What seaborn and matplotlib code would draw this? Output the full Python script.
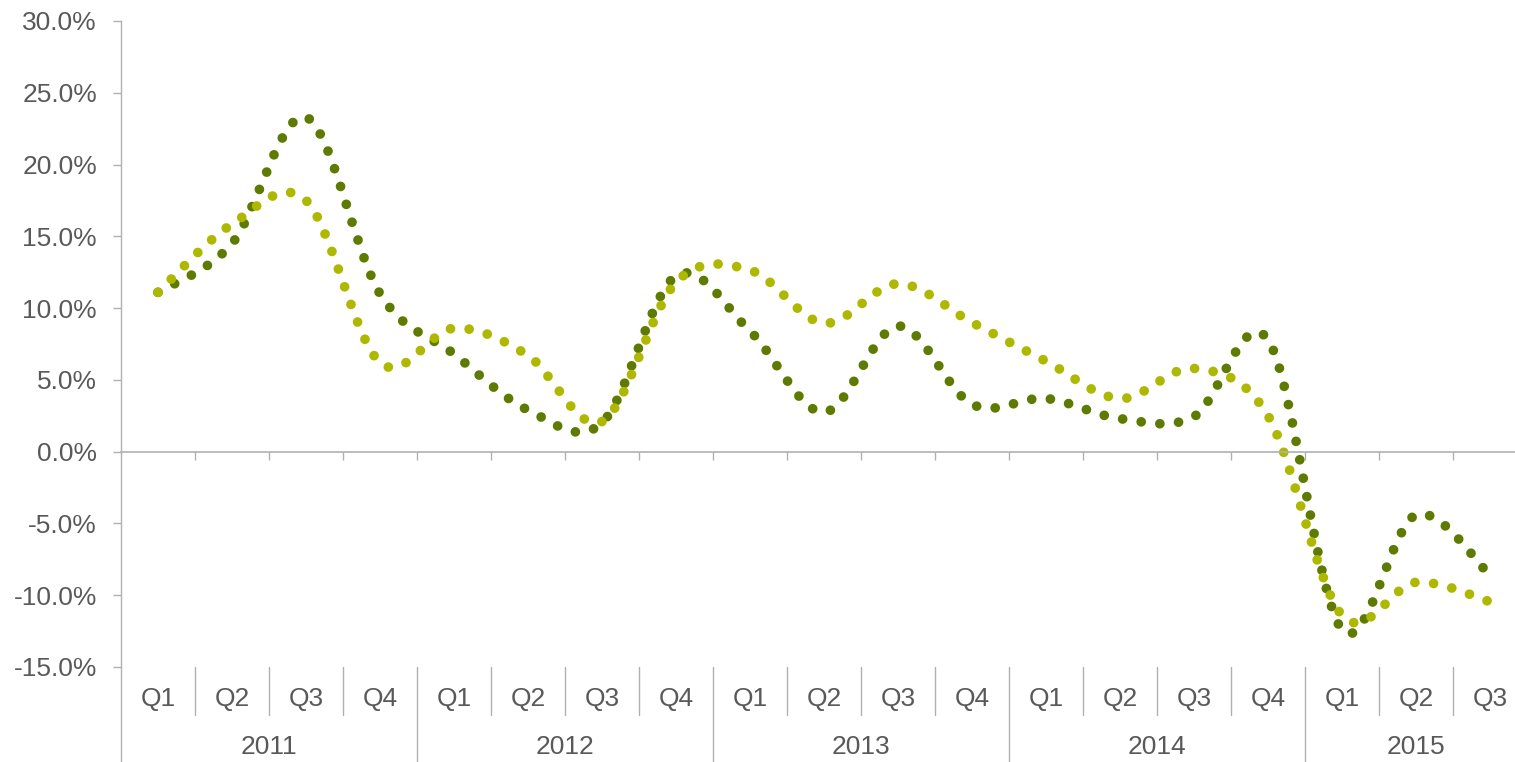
import matplotlib
matplotlib.use("Agg")
import matplotlib.pyplot as plt
from matplotlib.path import Path
from matplotlib.patches import PathPatch
import seaborn as sns

# quarters from 2011 Q1 to 2015 Q3
quarters = ["Q1", "Q2", "Q3", "Q4"] * 4 + ["Q1", "Q2", "Q3"]
years = ["2011", "2012", "2013", "2014", "2015"]
quarters_per_year = [4, 4, 4, 4, 3]

# growth rates in %
serie_oscura = [11.1, 14.5, 23.3, 11.0, 6.8, 2.9, 2.0, 12.25, 8.4, 2.75,
                8.75, 3.3, 3.7, 2.3, 2.45, 7.8, -12.4, -4.4, -8.6]
serie_clara = [11.1, 15.85, 17.5, 6.2, 8.6, 6.7, 2.1, 11.8, 12.65, 8.95,
               11.7, 9.0, 6.3, 3.7, 5.8, 2.5, -11.4, -9.1, -10.45]

color_oscuro = "#5f7a00"
color_claro = "#aeb800"
gris_texto = "#595959"
gris_linea = "#b0b0b0"

sns.set_theme(style="white")
plt.rcParams["font.family"] = ["Liberation Sans", "DejaVu Sans"]


# curva suavizada tipo excel: bezier cubica con puntos de control catmull-rom
def curva_suave(valores):
    pts = list(enumerate(valores))
    n = len(pts)
    verts = [pts[0]]
    codes = [Path.MOVETO]
    for i in range(n - 1):
        p0 = pts[max(i - 1, 0)]
        p1 = pts[i]
        p2 = pts[i + 1]
        p3 = pts[min(i + 2, n - 1)]
        c1 = (p1[0] + (p2[0] - p0[0]) / 6, p1[1] + (p2[1] - p0[1]) / 6)
        c2 = (p2[0] - (p3[0] - p1[0]) / 6, p2[1] - (p3[1] - p1[1]) / 6)
        verts += [c1, c2, p2]
        codes += [Path.CURVE4] * 3
    return Path(verts, codes)


W, H = 1515, 762
fig = plt.figure(figsize=(W / 100, H / 100), dpi=100)
# el area del grafico sigue un poco mas alla del borde derecho, como en el original
ax = fig.add_axes([121 / W, 95 / H, 1406 / W, 646 / H])

for valores, color in [(serie_oscura, color_oscuro), (serie_clara, color_claro)]:
    patch = PathPatch(curva_suave(valores), fill=False, edgecolor=color,
                      linewidth=7.0, linestyle=(0, (0.001, 1.93)),
                      capstyle="round", joinstyle="round")
    ax.add_patch(patch)

n = len(quarters)
ax.set_xlim(-0.5, n - 0.5)
ax.set_ylim(-15, 30)

# eje y
ax.set_yticks(range(-15, 31, 5))
ax.set_yticklabels([f"{v:.1f}%" for v in range(-15, 31, 5)])
ax.tick_params(axis="y", direction="out", length=5.8, width=1, color=gris_linea,
               labelsize=19, labelcolor=gris_texto, pad=11.5, left=True)

# eje x en el cero con marcas en los limites de cada trimestre
for s in ["top", "right"]:
    ax.spines[s].set_visible(False)
ax.spines["left"].set_color(gris_linea)
ax.spines["left"].set_linewidth(1)
ax.spines["bottom"].set_position(("data", 0))
ax.spines["bottom"].set_color(gris_linea)
ax.spines["bottom"].set_linewidth(1.2)
ax.set_xticks([i + 0.5 for i in range(n)])
ax.tick_params(axis="x", direction="out", length=5.8, width=1, color=gris_linea,
               labelbottom=False, bottom=True)
ax.grid(False)

# etiquetas de categoria de dos niveles debajo del grafico
trans = ax.get_xaxis_transform()
ax.plot([-0.5, -0.5], [0, -95 / 646], transform=trans, color=gris_linea,
        lw=1, clip_on=False)
for i, q in enumerate(quarters):
    ax.text(i, -32 / 646, q, transform=trans, ha="center", va="center",
            fontsize=19, color=gris_texto)

inicio = 0
for year, cuenta in zip(years, quarters_per_year):
    centro = inicio + (cuenta - 1) / 2
    ax.text(centro, -79.5 / 646, year, transform=trans, ha="center", va="center",
            fontsize=19, color=gris_texto)
    for k in range(1, cuenta):
        x = inicio + k - 0.5
        ax.plot([x, x], [0, -48 / 646], transform=trans, color=gris_linea,
                lw=1, clip_on=False)
    fin = inicio + cuenta - 0.5
    ax.plot([fin, fin], [0, -95 / 646], transform=trans, color=gris_linea,
            lw=1, clip_on=False)
    inicio += cuenta

fig.savefig("out.png", dpi=100, facecolor="white")
